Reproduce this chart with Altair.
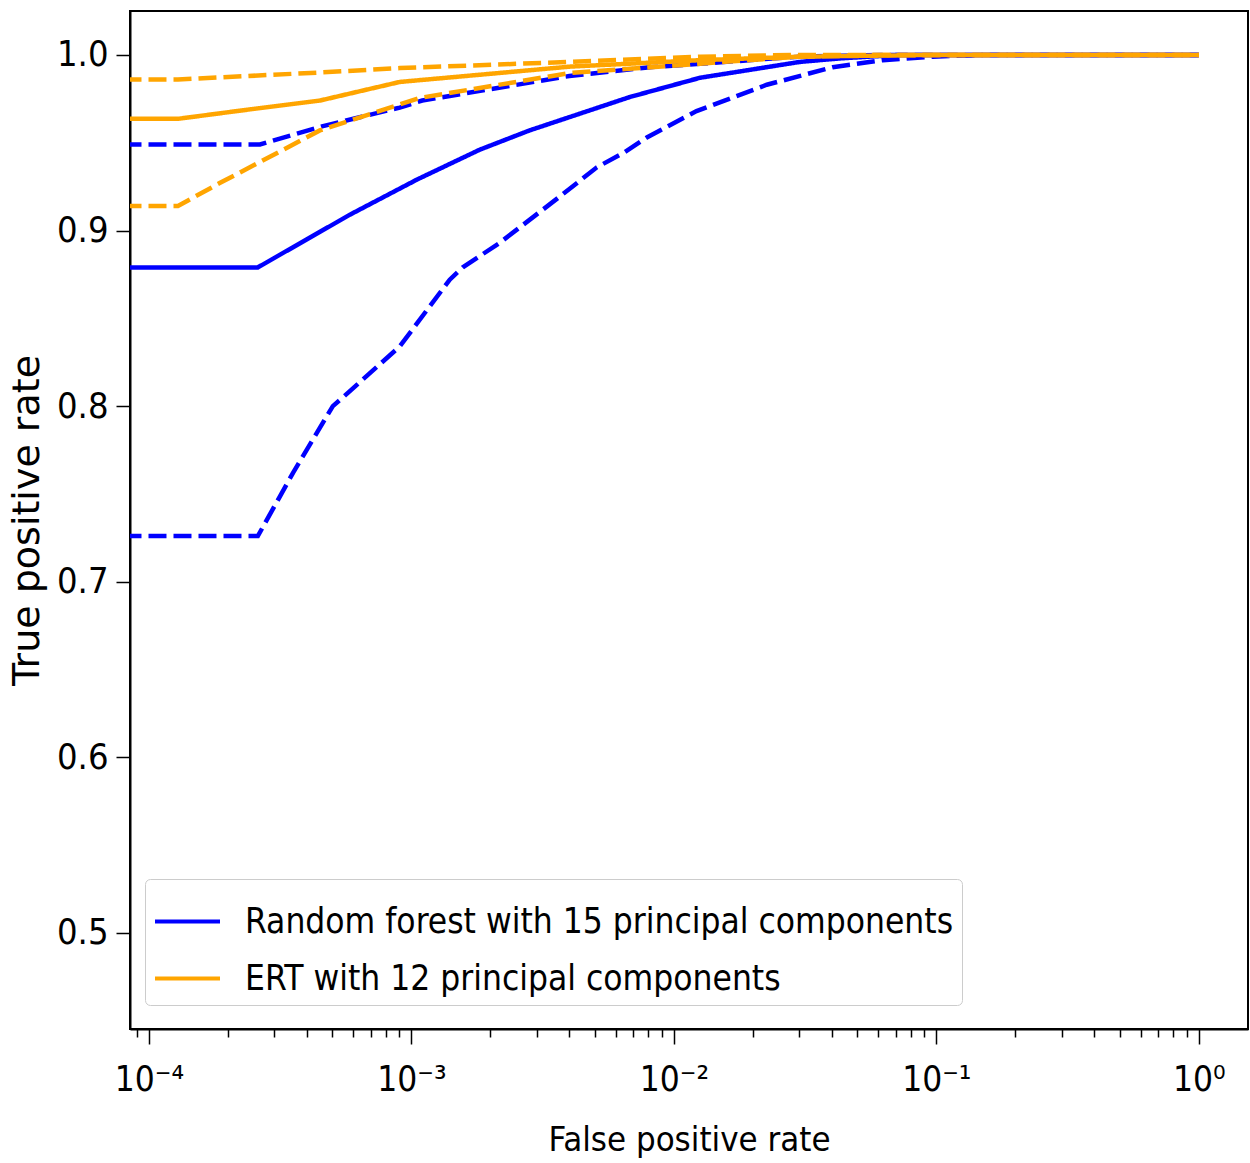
import altair as alt
import pandas as pd

MODELS = ["Random forest with 15 principal components", "ERT with 12 principal components"]
COLORS = ["#0000ff", "#ffa500"]

# Random forest (blue)
RF_MEAN_FPR = [8e-5, 2.6e-4, 5.83e-4, 1.05e-3, 1.82e-3, 2.82e-3, 6.79e-3, 1.26e-2, 1.95e-2, 3.02e-2, 4.28e-2, 7.2e-2, 1.0]
RF_MEAN_TPR = [0.879, 0.879, 0.909, 0.929, 0.946, 0.957, 0.976, 0.987, 0.9915, 0.996, 0.998, 1.0, 1.0]
RF_LOW_FPR = [8e-5, 2.6e-4, 3.54e-4, 5.02e-4, 5.48e-4, 9.03e-4, 1.40e-3, 1.57e-3, 2.17e-3, 3.58e-3, 5.09e-3, 6.4e-3, 7.89e-3, 1.22e-2, 2.26e-2, 4.03e-2, 6.25e-2, 9.7e-2, 1.5e-1, 1.0]
RF_LOW_TPR = [0.726, 0.726, 0.762, 0.800, 0.805, 0.834, 0.872, 0.879, 0.893, 0.918, 0.936, 0.944, 0.953, 0.968, 0.983, 0.993, 0.997, 0.999, 1.0, 1.0]
RF_HIGH_FPR = [8e-5, 2.65e-4, 4.48e-4, 9.03e-4, 1.1e-3, 4.0e-3, 8.1e-3, 1.26e-2, 3.02e-2, 6.25e-2, 1.0]
RF_HIGH_TPR = [0.949, 0.949, 0.959, 0.970, 0.974, 0.988, 0.993, 0.995, 0.999, 1.0, 1.0]

# ERT (orange)
ERT_MEAN_FPR = [8e-5, 1.29e-4, 2.43e-4, 4.48e-4, 9.03e-4, 4.0e-3, 1.26e-2, 3.02e-2, 9.7e-2, 1.0]
ERT_MEAN_TPR = [0.9636, 0.9636, 0.969, 0.974, 0.9846, 0.9933, 0.997, 0.999, 1.0, 1.0]
ERT_LOW_FPR = [8e-5, 1.29e-4, 1.86e-4, 2.89e-4, 4.48e-4, 1.076e-3, 4.02e-3, 1.26e-2, 3.0e-2, 6.0e-2, 1.0]
ERT_LOW_TPR = [0.914, 0.914, 0.927, 0.942, 0.957, 0.9755, 0.9897, 0.995, 0.999, 1.0, 1.0]
ERT_HIGH_FPR = [8e-5, 1.29e-4, 4.48e-4, 9.03e-4, 4.0e-3, 1.26e-2, 3.0e-2, 1.0]
ERT_HIGH_TPR = [0.986, 0.986, 0.990, 0.9925, 0.996, 0.999, 1.0, 1.0]

Y_TICKS = [0.5, 0.6, 0.7, 0.8, 0.9, 1.0]
X_DOMAIN = [8.47e-5, 1.54]
Y_DOMAIN = [0.4453, 1.025]

rows = []
def add(series, model, style, fprs, tprs):
    for f, t in zip(fprs, tprs):
        rows.append({"series": series, "model": model, "style": style, "fpr": f, "tpr": t})

add("rf_mean", MODELS[0], "solid", RF_MEAN_FPR, RF_MEAN_TPR)
add("rf_low", MODELS[0], "dashed", RF_LOW_FPR, RF_LOW_TPR)
add("rf_high", MODELS[0], "dashed", RF_HIGH_FPR, RF_HIGH_TPR)
add("ert_mean", MODELS[1], "solid", ERT_MEAN_FPR, ERT_MEAN_TPR)
add("ert_low", MODELS[1], "dashed", ERT_LOW_FPR, ERT_LOW_TPR)
add("ert_high", MODELS[1], "dashed", ERT_HIGH_FPR, ERT_HIGH_TPR)
df = pd.DataFrame(rows)

# x tick values (major + minor, log)
x_ticks = []
for k in range(-5, 1):
    for m in range(1, 10):
        v = float(f"{m}e{k}")
        if X_DOMAIN[0] <= v <= X_DOMAIN[1]:
            x_ticks.append(v)

LOGV = "(log(datum.value)/LN10)"
IS_MAJOR = f"abs({LOGV} - round({LOGV})) < 0.001"
E = f"round({LOGV})"
sup = {-4: "10⁻⁴", -3: "10⁻³", -2: "10⁻²", -1: "10⁻¹", 0: "10⁰"}
lab = "''"
for k in [0, -1, -2, -3, -4]:
    lab = f"({E} == {k} ? '{sup[k]}' : {lab})"
label_expr = f"{IS_MAJOR} ? {lab} : ''"

FONT = "DejaVu Sans Condensed, DejaVu Sans"

x_enc = alt.X(
    "fpr:Q",
    scale=alt.Scale(type="log", domain=X_DOMAIN, nice=False),
    axis=alt.Axis(
        title="False positive rate",
        values=x_ticks,
        labelExpr=label_expr,
        labelOverlap=False,
        labelFlush=False,
        tickSize={"condition": {"test": IS_MAJOR, "value": 15}, "value": 8},
        labelFont=FONT,
        labelFontSize=35,
        labelPadding=18,
        titleFont=FONT,
        titleFontSize=34.5,
        titlePadding=26,
        grid=False,
    ),
)
y_enc = alt.Y(
    "tpr:Q",
    scale=alt.Scale(domain=Y_DOMAIN, nice=False, zero=False),
    axis=alt.Axis(
        title="True positive rate",
        values=Y_TICKS,
        format=".1f",
        tickSize=14,
        labelFont=FONT,
        labelFontSize=36,
        labelPadding=8,
        titleFont="DejaVu Sans",
        titleFontSize=38,
        titlePadding=10,
        grid=False,
    ),
)
color_enc = alt.Color(
    "model:N",
    scale=alt.Scale(domain=MODELS, range=COLORS),
    legend=alt.Legend(
        orient="none",
        legendX=15,
        legendY=868,
        title=None,
        symbolType="stroke",
        symbolStrokeWidth=4,
        symbolSize=4225,
        labelFont=FONT,
        labelFontSize=35,
        labelColor="black",
        labelOffset=23,
        padding=8,
        rowPadding=4,
        strokeColor="#cccccc",
        fillColor="white",
        cornerRadius=5,
        labelLimit=1000,
    ),
)
dash_enc = alt.StrokeDash(
    "style:N",
    scale=alt.Scale(domain=["solid", "dashed"], range=[[1, 0], [18, 7]]),
    legend=None,
)

def layer_for(model):
    return (
        alt.Chart(df)
        .transform_filter(alt.datum.model == model)
        .mark_line(strokeWidth=4.5, clip=True)
        .encode(x=x_enc, y=y_enc, color=color_enc, strokeDash=dash_enc, detail="series:N")
    )

chart = (
    alt.layer(layer_for(MODELS[0]), layer_for(MODELS[1]))
    .properties(
        width=1118,
        height=1018,
        autosize=alt.AutoSizeParams(type="none"),
        padding={"left": 130, "top": 11, "right": 2, "bottom": 134},
        background="white",
    )
    .configure_view(stroke="black", strokeWidth=2)
    .configure_axis(
        domainColor="black",
        domainWidth=2,
        tickColor="black",
        tickWidth=1.5,
        labelColor="black",
        titleColor="black",
        titleFontWeight="normal",
    )
)

chart.save("out.html", embed_options={"renderer": "svg", "actions": False})
